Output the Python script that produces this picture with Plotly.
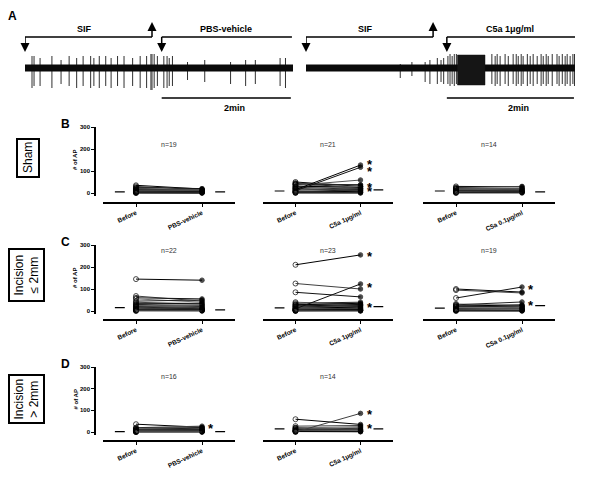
import plotly.graph_objects as go

W, H = 600, 490
FONT = "Arial, Liberation Sans, sans-serif"

# ---------------- A: extracellular recordings (time in s, amplitude in a.u.) ----------------
rec_len = [249, 254]          # left: SIF -> PBS, right: SIF -> C5a
sif_end = [118, 120]          # up arrow, end of SIF
drug_start = [127, 133]       # down arrow, start of test solution
drug_names = ["PBS-vehicle", "C5a 1μg/ml"]
scale_s = 120                 # 2 min scale bar

pbs_spike_t = [6.5, 8.4, 14, 25, 33.5, 41, 48, 54, 61, 64, 69, 75, 80, 86, 92, 100, 107,
               113, 117, 118, 120, 123, 129, 132, 134, 137, 151, 167, 191, 205, 214, 237, 242]
pbs_spike_up = [6, 6, 5, 6, 4, 6, 5, 6, 6, 5, 6, 6, 5, 6, 6, 5, 6,
                6, 7, 7, 7, 6, 6, 6, 5, 6, 3, 4, 3, 4, 4, 5, 5]
pbs_spike_dn = [-10, -9, -9, -10, -8, -9, -10, -9, -10, -9, -10, -9, -10, -9, -10, -9, -10,
                -10, -11, -11, -10, -9, -10, -10, -9, -9, -6, -7, -8, -9, -8, -9, -10]

c5a_spike_t = [89, 100, 112.5, 117, 124, 127.5, 130, 134, 136, 138, 140, 142,
               175.5, 178.6, 180.5, 183.3, 188, 191, 195.6, 198.5, 200.4, 203.2, 205, 209,
               211.7, 214.5, 218.3, 222, 224, 226.8, 228.7, 232.5, 237, 239, 242, 244.7,
               246.6, 249.4, 252, 253.5]
c5a_spike_up = [2, 3, 3, 4, 5, 4, 5, 6, 7, 6, 7, 7,
                7, 6, 7, 6, 7, 6, 7, 7, 6, 7, 6, 7,
                6, 7, 6, 7, 6, 7, 6, 7, 7, 6, 7, 6,
                7, 6, 7, 7]
c5a_spike_dn = [-5, -4, -7, -8, -8, -7, -8, -8, -9, -8, -9, -8,
                -8, -9, -8, -9, -8, -9, -8, -9, -8, -9, -8, -9,
                -8, -9, -8, -9, -8, -9, -8, -9, -8, -9, -8, -9,
                -8, -9, -8, -9]
c5a_burst_start = [143]
c5a_burst_end = [169]
c5a_burst_up = [6.5]
c5a_burst_dn = [-8.5]

# ---------------- B-D: number of APs before / after ----------------
categories = ["Before", "After"]
row_names = ["Sham", "Incision<br>≤ 2mm", "Incision<br>> 2mm"]
row_letters = ["B", "C", "D"]
treat_names = ["PBS-vehicle", "C5a 1μg/ml", "C5a 0.1μg/ml"]

sham_pbs_before = [35, 30, 25, 22, 20, 18, 15, 14, 12, 10, 9, 8, 6, 5, 4, 3, 2, 1, 0]
sham_pbs_after = [18, 15, 20, 12, 10, 16, 8, 14, 6, 12, 9, 5, 7, 4, 3, 2, 1, 0, 0]
sham_c5a1_before = [50, 45, 42, 40, 38, 35, 30, 28, 25, 22, 20, 18, 15, 12, 10, 8, 6, 5, 3, 2, 0]
sham_c5a1_after = [30, 35, 25, 20, 38, 59, 28, 15, 22, 30, 12, 10, 127, 20, 117, 5, 15, 3, 8, 1, 0]
sham_c5a01_before = [30, 25, 22, 20, 18, 15, 12, 10, 8, 6, 5, 3, 2, 0]
sham_c5a01_after = [28, 30, 20, 22, 15, 18, 10, 12, 8, 5, 6, 2, 3, 0]

small_pbs_before = [145, 68, 60, 55, 45, 40, 35, 30, 28, 25, 22, 20, 18, 15, 12, 10, 8, 6, 5, 3, 2, 0]
small_pbs_after = [140, 45, 55, 40, 50, 30, 35, 25, 20, 28, 15, 18, 10, 12, 8, 5, 6, 3, 4, 2, 1, 0]
small_c5a1_before = [210, 125, 85, 40, 35, 30, 28, 25, 22, 20, 18, 15, 12, 10, 10, 8, 6, 5, 4, 3, 2, 1, 0]
small_c5a1_after = [255, 100, 64, 30, 40, 25, 35, 20, 30, 15, 25, 10, 18, 12, 123, 5, 8, 3, 6, 2, 4, 0, 1]
small_c5a01_before = [100, 95, 59, 32, 28, 25, 22, 20, 18, 15, 12, 10, 8, 6, 5, 4, 3, 2, 0]
small_c5a01_after = [86, 82, 109, 25, 41, 20, 28, 15, 22, 18, 10, 12, 5, 8, 3, 6, 2, 1, 0]

large_pbs_before = [36, 20, 18, 15, 12, 10, 9, 8, 6, 5, 4, 3, 2, 1, 0, 0]
large_pbs_after = [22, 27, 20, 15, 18, 12, 10, 8, 6, 4, 5, 3, 2, 1, 0, 0]
large_c5a1_before = [59, 27, 20, 18, 15, 12, 10, 8, 6, 5, 4, 3, 2, 0]
large_c5a1_after = [35, 30, 15, 25, 10, 20, 8, 12, 5, 6, 2, 3, 1, 86]

# group medians (short dashes), [before, after]
sham_medians = [[5, 5], [9, 14], [9, 5]]
small_medians = [[15, 5], [14, 20], [13, 24]]
large_medians = [[2, 2], [14, 14]]

# asterisks (significance marks) next to the "after" column
sham_stars = [[], [150, 114, 41, 23], []]
small_stars = [[], [268, 127, 36], [114, 41]]
large_stars = [[36], [100, 36]]

n_label_y = [220, 277, 255]

groups = [
    [(sham_pbs_before, sham_pbs_after), (sham_c5a1_before, sham_c5a1_after),
     (sham_c5a01_before, sham_c5a01_after)],
    [(small_pbs_before, small_pbs_after), (small_c5a1_before, small_c5a1_after),
     (small_c5a01_before, small_c5a01_after)],
    [(large_pbs_before, large_pbs_after), (large_c5a1_before, large_c5a1_after)],
]
medians = [sham_medians, small_medians, large_medians]
stars = [sham_stars, small_stars, large_stars]

# layout in pixels: (300 tick, 0 tick, x-axis line), label box
row_px = [(127, 193, 203, (17, 139, 39, 177)),
          (245, 311, 320, (9, 249, 44, 301)),
          (367, 432, 441, (9, 375, 44, 423))]
col_px = [(103, 235), (263, 393), (423, 555)]
Y_LO = -15
line_colors = ["#000000", "#404040", "#111111", "#707070", "#222222", "#555555"]


def px(x):
    return x / W


def py(y):
    return 1 - y / H


def note(x, y, text, xref="paper", yref="paper", **kw):
    d = dict(x=x, y=y, xref=xref, yref=yref, text=text, showarrow=False,
             xanchor="center", yanchor="middle")
    d.update(kw)
    return d


fig = go.Figure()
layout = dict(width=W, height=H, margin=dict(l=0, r=0, t=0, b=0), template="none",
              plot_bgcolor="white", paper_bgcolor="white", showlegend=False,
              font=dict(family=FONT, color="black"))
shapes, annotations = [], []

# ---- panel A ----
spike_sets = [(pbs_spike_t, pbs_spike_up, pbs_spike_dn), (c5a_spike_t, c5a_spike_up, c5a_spike_dn)]
trace_dom = [(25, 293), (306, 575)]
for i in range(2):
    ax = "" if i == 0 else "2"
    layout[f"xaxis{ax}"] = dict(domain=[px(trace_dom[i][0]), px(trace_dom[i][1])],
                                range=[0, rec_len[i]], visible=False, anchor=f"y{ax}")
    layout[f"yaxis{ax}"] = dict(domain=[py(92), py(44)], range=[-12, 12],
                                visible=False, anchor=f"x{ax}")
    xs, ys = [], []
    t, up, dn = spike_sets[i]
    for tt, u, d in zip(t, up, dn):
        xs += [tt, tt, None]
        ys += [u, d, None]
    fig.add_trace(go.Scatter(x=xs, y=ys, mode="lines", line=dict(color="#303030", width=1),
                             xaxis=f"x{ax}", yaxis=f"y{ax}", hoverinfo="skip"))
    fig.add_trace(go.Scatter(x=[0, rec_len[i]], y=[0, 0], mode="lines",
                             line=dict(color="#0a0a0a", width=7),
                             xaxis=f"x{ax}", yaxis=f"y{ax}", hoverinfo="skip"))
    if i == 1:
        for s, e, u, d in zip(c5a_burst_start, c5a_burst_end, c5a_burst_up, c5a_burst_dn):
            fig.add_trace(go.Scatter(x=[s, e, e, s, s], y=[u, u, d, d, u], mode="lines",
                                     fill="toself", fillcolor="#151515",
                                     line=dict(color="#151515", width=0.5),
                                     xaxis="x2", yaxis="y2", hoverinfo="skip"))

    xr = f"x{ax}"
    # brackets
    for x0, x1 in [(0, sif_end[i]), (drug_start[i], drug_start[i] + scale_s + 1)]:
        shapes.append(dict(type="line", xref=xr, yref="paper", x0=x0, x1=x1,
                           y0=py(37), y1=py(37), line=dict(color="black", width=1.5)))
    for xv in [0, drug_start[i]]:
        shapes.append(dict(type="line", xref=xr, yref="paper", x0=xv, x1=xv,
                           y0=py(37), y1=py(46), line=dict(color="black", width=1.5)))
        annotations.append(dict(x=xv, y=py(52), xref=xr, yref="paper", text="", showarrow=True,
                                ax=0, ay=-8, arrowhead=2, arrowsize=1.2, arrowwidth=1.5,
                                arrowcolor="black"))
    shapes.append(dict(type="line", xref=xr, yref="paper", x0=sif_end[i], x1=sif_end[i],
                       y0=py(37), y1=py(28), line=dict(color="black", width=1.5)))
    annotations.append(dict(x=sif_end[i], y=py(22), xref=xr, yref="paper", text="", showarrow=True,
                            ax=0, ay=8, arrowhead=2, arrowsize=1.2, arrowwidth=1.5,
                            arrowcolor="black"))
    annotations.append(note(sif_end[i] / 2, py(29), "<b>SIF</b>", xref=xr,
                            font=dict(size=9), xshift=-4))
    annotations.append(note(drug_start[i] + scale_s / 2, py(29), f"<b>{drug_names[i]}</b>",
                            xref=xr, font=dict(size=9)))
    # scale bar
    shapes.append(dict(type="line", xref=xr, yref="paper", x0=drug_start[i],
                       x1=drug_start[i] + scale_s, y0=py(98), y1=py(98),
                       line=dict(color="black", width=1.5)))
    annotations.append(note(drug_start[i] + scale_s / 2, py(108), "<b>2min</b>", xref=xr,
                            font=dict(size=9), xshift=8))

annotations.append(note(px(12), py(16), "<b>A</b>", font=dict(size=12)))

# ---- panels B-D ----
k = 3
for r, row in enumerate(groups):
    top, zero, axis_y, box = row_px[r]
    bottom = zero + (zero - top) * (-Y_LO) / 300
    for c, (before, after) in enumerate(row):
        x0, x1 = col_px[c]
        layout[f"xaxis{k}"] = dict(
            domain=[px(x0), px(x1)], range=[-0.5, 1.5], anchor="free", position=py(axis_y),
            showline=True, linecolor="black", linewidth=1.5, ticks="outside", ticklen=3,
            tickwidth=1, tickcolor="black", tickvals=[0, 1],
            ticktext=[categories[0], treat_names[c]], tickangle=-25,
            tickfont=dict(size=6.5, weight="bold", color="black"), showgrid=False,
            zeroline=False)
        ycfg = dict(domain=[py(bottom), py(top)], range=[Y_LO, 300], anchor="free",
                    position=px(95), showgrid=False, zeroline=False)
        if c == 0:
            ycfg.update(showline=True, linecolor="black", linewidth=1.5, ticks="outside",
                        ticklen=3, tickwidth=1, tickcolor="black", tickvals=[0, 100, 200, 300],
                        tickfont=dict(size=6, weight="bold", color="black"))
        else:
            ycfg.update(visible=False)
        layout[f"yaxis{k}"] = ycfg

        for j, (b, a) in enumerate(zip(before, after)):
            col = line_colors[j % len(line_colors)]
            fig.add_trace(go.Scatter(
                x=[0, 1], y=[b, a], mode="lines+markers", xaxis=f"x{k}", yaxis=f"y{k}",
                line=dict(color=col, width=1), cliponaxis=False,
                marker=dict(size=[5, 4.5], symbol=["circle-open", "circle"], color="black",
                            line=dict(width=1, color="black")), hoverinfo="skip"))
        med = medians[r][c]
        for ci, (m0, m1) in enumerate([(-0.32, -0.17), (1.2, 1.35)]):
            fig.add_trace(go.Scatter(x=[m0, m1], y=[med[ci], med[ci]], mode="lines",
                                     xaxis=f"x{k}", yaxis=f"y{k}", hoverinfo="skip",
                                     line=dict(color="black", width=1.2)))
        annotations.append(note(0.5, n_label_y[r], f"n={len(before)}", xref=f"x{k}",
                                yref=f"y{k}", font=dict(size=7, color="#333333")))
        for sv in stars[r][c]:
            annotations.append(note(1.14, sv, "<b>*</b>", xref=f"x{k}", yref=f"y{k}",
                                    font=dict(size=13), yshift=-4))
        k += 1

    # row decorations
    annotations.append(note(px(65), py(top - 3), f"<b>{row_letters[r]}</b>", font=dict(size=12)))
    annotations.append(note(px(75), py((top + zero) / 2), "<b># of AP</b>", textangle=-90,
                            font=dict(size=6)))
    bx0, by0, bx1, by1 = box
    shapes.append(dict(type="rect", xref="paper", yref="paper", x0=px(bx0), x1=px(bx1),
                       y0=py(by1), y1=py(by0), line=dict(color="black", width=2)))
    annotations.append(note(px((bx0 + bx1) / 2), py((by0 + by1) / 2), row_names[r],
                            textangle=-90, font=dict(size=12)))

layout["shapes"] = shapes
layout["annotations"] = annotations
fig.update_layout(**layout)
fig.write_html("out.html", config={"displayModeBar": False},
               post_script="document.body.style.margin='0px';")
